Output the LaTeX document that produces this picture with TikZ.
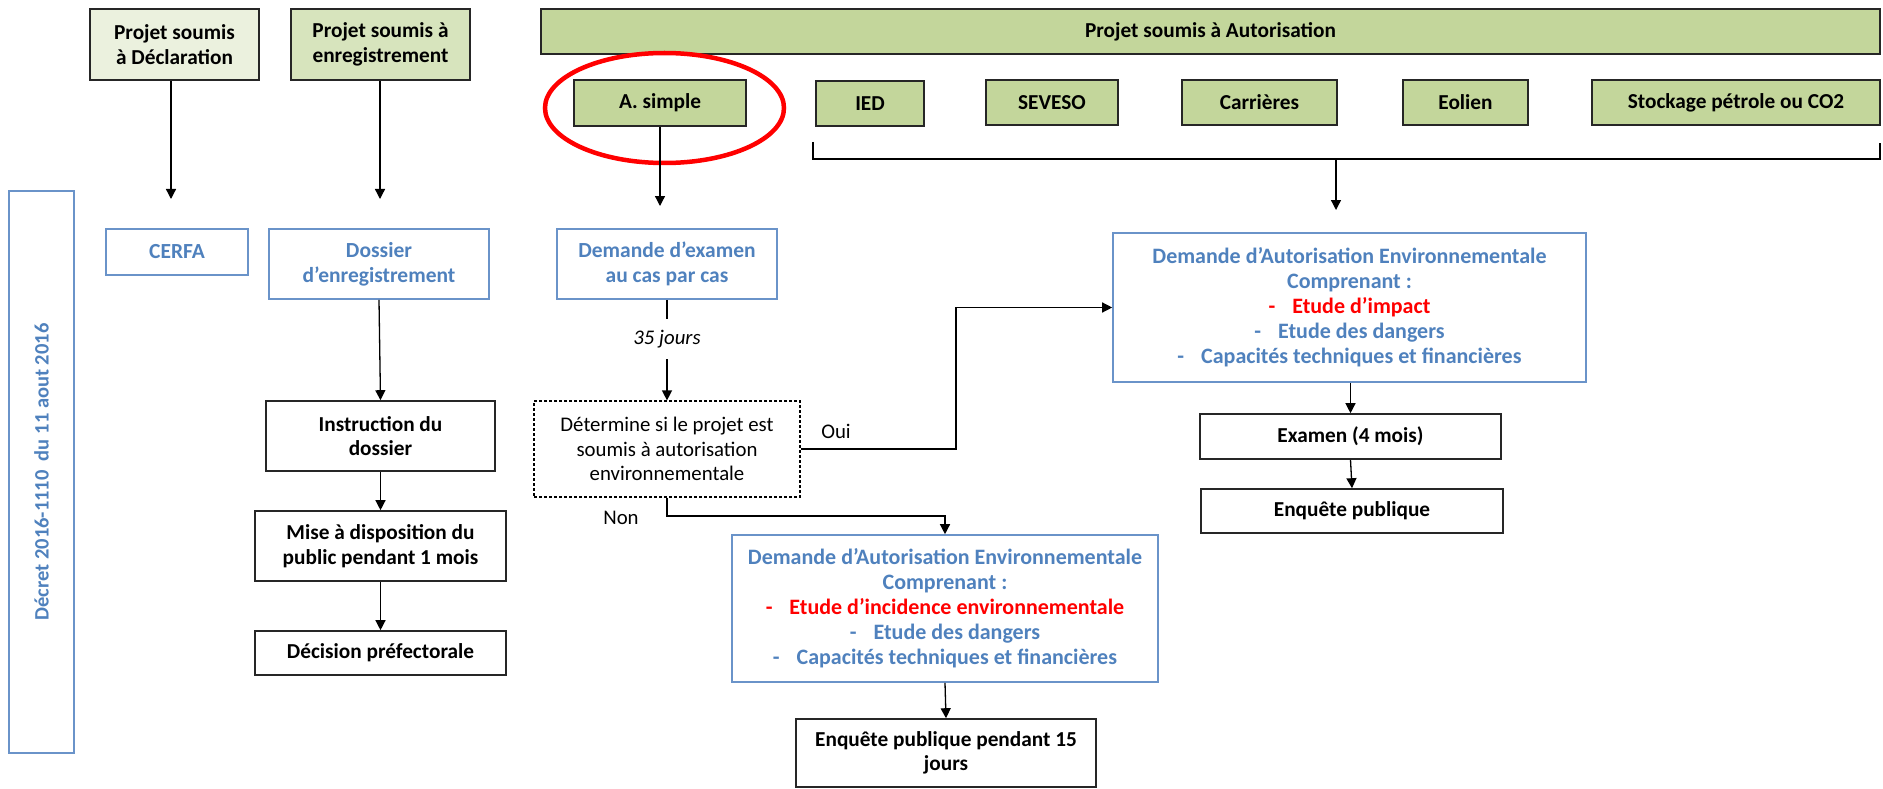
\documentclass[tikz,border=0pt]{standalone}
\usepackage{fontspec}
\setmainfont{Carlito}
\usetikzlibrary{arrows.meta}
\definecolor{gfill}{HTML}{C3D69B}
\definecolor{declfill}{HTML}{EBF1DE}
\definecolor{enregfill}{HTML}{D7E4BD}
\definecolor{bstroke}{HTML}{6A93C9}
\definecolor{btext}{HTML}{4F81BD}
\definecolor{rtext}{HTML}{FF0000}
\begin{document}
\begin{tikzpicture}[x=1pt,y=-1pt,
  txt/.style={font=\fontsize{20.8}{24.5}\selectfont},
  box/.style={draw=black!85, line width=1.6pt, inner sep=0pt, align=center, font=\fontsize{21.3}{24.5}\selectfont\bfseries},
  gbox/.style={box, fill=gfill},
  bbox/.style={draw=bstroke, line width=1.6pt, inner sep=0pt, align=center, text=btext, font=\fontsize{21.5}{25}\selectfont\bfseries},
  dembox/.style={bbox, font=\fontsize{22}{25}\selectfont\bfseries},
  arr/.style={-{Triangle[length=10pt,width=10pt]}, line width=1.3pt},
  lin/.style={line width=1.3pt}]
\useasboundingbox (0,0) rectangle (1883,789);

% top row
\node[box, fill=declfill, minimum width=169, minimum height=71] (decl) at (174.5,44.5) {Projet soumis\\à Déclaration};
\node[box, fill=enregfill, minimum width=179, minimum height=71] (enreg) at (380.5,44.5) {Projet soumis à\\enregistrement};
\node[gbox, minimum width=1339, minimum height=45] (bar) at (1210.5,31.5) {Projet soumis à Autorisation};

\node[gbox, minimum width=172, minimum height=46] (asimple) at (660,103) {A. simple};
\node[gbox, minimum width=108, minimum height=45] (ied) at (870,103.5) {IED};
\node[gbox, minimum width=132, minimum height=45] (seveso) at (1052,102.5) {SEVESO};
\node[gbox, minimum width=155, minimum height=45] (carr) at (1259.5,102.5) {Carrières};
\node[gbox, minimum width=125, minimum height=45] (eol) at (1465.5,102.5) {Eolien};
\node[gbox, minimum width=288, minimum height=45] (stock) at (1736,102.5) {Stockage pétrole ou CO2};

% red ellipse
\draw[red, line width=4.5pt] (664.5,108) ellipse [x radius=119.5, y radius=55];

% bracket
\coordinate (brL) at (813,142);
\coordinate (brR) at (1880,143);
\coordinate (brM) at (1336,159);
\coordinate (brEnd) at (1336,210);
\draw[lin] (brL) -- (brL |- brM) -- (brR |- brM) -- (brR);
\draw[arr] (brM) -- (brEnd);

% left vertical box
\node[bbox, font=\fontsize{20.5}{25}\selectfont\bfseries, rotate=90, minimum width=562, minimum height=65] (decret) at (41.5,472) {Décret 2016-1110\ \ du 11 aout 2016};

% second row
\node[bbox, minimum width=142, minimum height=46] (cerfa) at (177,252) {CERFA};
\node[bbox, minimum width=220, minimum height=70] (dossier) at (379,264) {Dossier\\d’enregistrement};
\node[bbox, minimum width=220, minimum height=70] (demex) at (667,264) {Demande d’examen\\au cas par cas};

\coordinate (declEnd) at (171,199);
\coordinate (enregEnd) at (380,199);
\coordinate (asEnd) at (660,206);
\draw[arr] (declEnd |- decl.south) -- (declEnd);
\draw[arr] (enregEnd |- enreg.south) -- (enregEnd);
\draw[arr] (asimple.south) -- (asEnd);

% enregistrement column
\node[box, minimum width=229, minimum height=70] (instr) at (380.5,436) {Instruction du\\dossier};
\node[box, minimum width=251, minimum height=70] (mise) at (380.5,546) {Mise à disposition du\\public pendant 1 mois};
\node[box, minimum width=251, minimum height=44] (decis) at (380.5,653) {Décision préfectorale};
\draw[arr] (dossier.south) -- (instr.north);
\draw[arr] (instr.south) -- (mise.north);
\draw[arr] (mise.south) -- (decis.north);

% cas par cas column
\node[txt, font=\fontsize{20.8}{25}\selectfont\itshape, inner sep=0pt, minimum height=40] (jours) at (667,339) {35 jours};
\node[txt, draw, dash pattern=on 3pt off 2pt, line width=1.2pt, inner sep=0pt, align=center, minimum width=266, minimum height=96] (determ) at (667,449) {Détermine si le projet est\\soumis à autorisation\\environnementale};
\draw[lin] (demex.south) -- (jours.north);
\draw[arr] (jours.south) -- (determ.north);

\node[txt, inner sep=0pt] (oui) at (836,431) {Oui};
\node[txt, inner sep=0pt] (non) at (621,518) {Non};

% autorisation environnementale (right)
\node[dembox, minimum width=473, minimum height=149] (autor) at (1349.5,307.5) {Demande d’Autorisation Environnementale\\Comprenant :\\\textcolor{rtext}{-\hspace{17pt}Etude d’impact}\\-\hspace{17pt}Etude des dangers\\-\hspace{17pt}Capacités techniques et financières};
\node[box, minimum width=301, minimum height=45] (examen) at (1350.5,436.5) {Examen (4 mois)};
\node[box, minimum width=302, minimum height=44] (enqpub) at (1352,511) {Enquête publique};
\draw[arr] (autor.south -| examen.north) -- (examen.north);
\draw[arr] (examen.south) -- (enqpub.north);

\coordinate (ouiBend) at (956,0);
\draw[arr] (determ.east) -- (determ.east -| ouiBend) |- (autor.west);

% incidence environnementale (bottom)
\node[dembox, minimum width=426, minimum height=147] (dem2) at (945,608.5) {Demande d’Autorisation Environnementale\\Comprenant :\\\textcolor{rtext}{-\hspace{17pt}Etude d’incidence environnementale}\\-\hspace{17pt}Etude des dangers\\-\hspace{17pt}Capacités techniques et financières};
\node[box, minimum width=300, minimum height=68] (enq15) at (946,753) {Enquête publique pendant 15\\jours};
\draw[arr] (dem2.south) -- (enq15.north);

\coordinate (nonBend) at (700,516);
\draw[arr] (determ.south) -- (determ.south |- nonBend) -| (dem2.north);
\end{tikzpicture}
\end{document}
